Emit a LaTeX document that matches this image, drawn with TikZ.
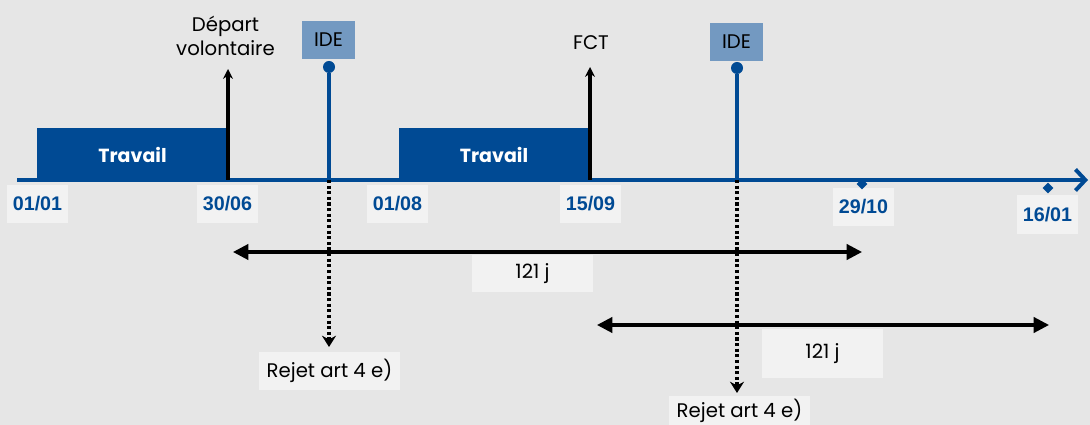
\documentclass[tikz,border=0pt]{standalone}
\usepackage{fontspec}
\setmainfont{Poppins}
\newfontfamily\datefont{Liberation Sans}
\usetikzlibrary{arrows.meta}
\usetikzlibrary{positioning,shapes.geometric}
\definecolor{bleu}{HTML}{004A94}
\definecolor{bleuclair}{HTML}{7399C1}
\definecolor{fond}{HTML}{E6E6E6}
\definecolor{etiq}{HTML}{F2F2F2}
\tikzset{
    travail/.style={
        fill=bleu,
        text=white,
        inner sep=0pt,
        minimum height=1.33cm,
        font=\bfseries\fontsize{13.5}{15}\selectfont
    },
    date/.style={
        fill=etiq,
        text=bleu,
        inner sep=0pt,
        minimum width=1.53cm,
        minimum height=0.95cm,
        font=\datefont\bfseries\fontsize{14}{16}\selectfont
    },
    ide/.style={
        fill=bleuclair,
        inner sep=0pt,
        minimum width=1.33cm,
        minimum height=0.95cm,
        font=\fontsize{14}{16}\selectfont
    },
    etiquette/.style={
        fill=etiq,
        inner sep=0pt,
        minimum height=0.95cm,
        font=\fontsize{14}{16}\selectfont
    },
    texte/.style={
        inner sep=0pt,
        align=center,
        font=\fontsize{14}{17}\selectfont
    },
    marque/.style={
        diamond,
        fill=bleu,
        inner sep=0pt,
        minimum size=0.27cm
    },
    pin/.style={
        circle,
        fill=bleu,
        inner sep=0pt,
        minimum size=0.3cm
    },
    pointille/.style={
        line width=2.4pt,
        dash pattern=on 2.2pt off 1.8pt,
        -{Stealth[length=8pt, width=10pt]}
    },
    duree/.style={
        line width=2.2pt,
        {Triangle[length=11pt, width=11pt]}-{Triangle[length=11pt, width=11pt]}
    }
}

\begin{document}
\begin{tikzpicture}[x=0.025cm, y=-0.025cm]
    \fill[fond] (0,0) rectangle (1090,425);
    \clip (0,0) rectangle (1090,425);

    % travail
    \node[travail, minimum width=4.78cm] (trav1) at (132.5,154.5) {Travail};
    \node[travail, minimum width=4.75cm] (trav2) at (494,154.5) {Travail};

    % axe du temps
    \coordinate (debut) at (17,180);
    \coordinate (fin) at (1088,180);
    \draw[bleu, line width=2.8pt, -{Straight Barb[length=7pt, width=15pt, line width=2.8pt]}] (debut) -- (fin);

    % dates
    \node[date] (d0101) at (37.5,204) {01/01};
    \node[date] (d3006) at (227.5,204) {30/06};
    \node[date] (d0108) at (397.5,204) {01/08};
    \node[date] (d1509) at (590.5,204) {15/09};
    \node[date] (d2910) at (863.5,207) {29/10};
    \node[date] (d1601) at (1047.5,214.5) {16/01};
    \node[marque] (m2910) at (862,184) {};
    \node[marque] (m1601) at (1048,188) {};

    % depart et FCT
    \coordinate (a3006) at (228,180);
    \coordinate (a1509) at (590,180);
    \node[texte] (depart) at (225.5,36) {D\'epart\\volontaire};
    \node[texte] (fct) at (591,43) {FCT};
    \draw[line width=2.2pt, -{Stealth[length=7pt, width=7pt]}] (a3006) -- (228,69);
    \draw[line width=2.2pt, -{Stealth[length=7pt, width=7pt]}] (a1509) -- (590,67);

    % IDE
    \node[ide] (ide1) at (328.5,40) {IDE};
    \node[ide] (ide2) at (736.5,42) {IDE};
    \node[pin] (p1) at (329,67) {};
    \node[pin] (p2) at (737,68) {};
    \coordinate (t1) at (329,180);
    \coordinate (t2) at (737,180);
    \draw[bleu, line width=2.2pt] (p1) -- (t1);
    \draw[bleu, line width=2.2pt] (p2) -- (t2);

    % rejets
    \node[etiquette, minimum width=3.53cm] (rejet1) at (329.5,371) {Rejet art 4 e)};
    \node[etiquette, minimum width=3.53cm, minimum height=0.75cm] (rejet2) at (739.5,411) {Rejet art 4 e)};
    \draw[pointille] (t1) -- (329,347);
    \draw[pointille] (t2) -- (737,393);

    % durees
    \coordinate (g1) at (233,252);
    \coordinate (dr1) at (862,252);
    \coordinate (g2) at (597,325);
    \coordinate (dr2) at (1049,325);
    \draw[duree] (g1) -- (dr1);
    \draw[duree] (g2) -- (dr2);
    \node[etiquette, minimum width=3.03cm, minimum height=0.93cm] (duree1) at (532.5,273.5) {121 j};
    \node[etiquette, minimum width=3.03cm, minimum height=1.22cm] (duree2) at (822.5,353.5) {121 j};
\end{tikzpicture}
\end{document}
